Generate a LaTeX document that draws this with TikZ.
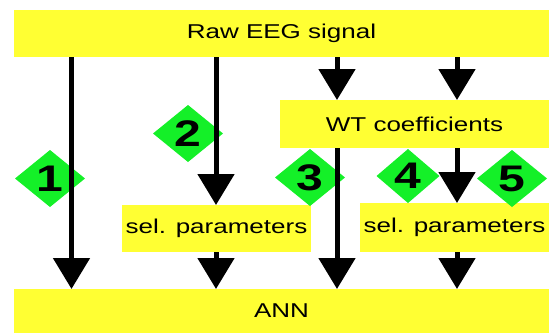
\documentclass[tikz,border=0pt]{standalone}
\usepackage{fontspec}
\setmainfont{Liberation Sans}[FakeStretch=1.3]
\usetikzlibrary{arrows.meta,shapes.geometric}
\definecolor{giallo}{RGB}{255,255,51}
\definecolor{verde}{RGB}{20,240,40}
\begin{document}
\begin{tikzpicture}[x=1pt,y=-1pt,
    box/.style={fill=giallo,inner sep=0pt,outer sep=0pt,font=\fontsize{20}{24}\selectfont},
    rombo/.style={diamond,fill=verde,inner sep=0pt,outer sep=0pt,minimum width=70pt,minimum height=57pt,font=\fontsize{37}{37}\selectfont\bfseries},
    freccia/.style={line width=5pt,-{Triangle[width=36pt,length=31pt]}}]
     \useasboundingbox (0,0) rectangle (549,333);

     %riquadri gialli
     \node[box,minimum width=535pt,minimum height=47.5pt] (raw) at (281.5,33.25) {Raw EEG signal};
     \node[box,minimum width=269pt,minimum height=48pt] (wt) at (414.5,124) {WT coefficients};
     \node[box,minimum width=189pt,minimum height=47pt] (selA) at (216.5,228.5) {sel. parameters};
     \node[box,minimum width=189pt,minimum height=49pt] (selB) at (454.5,227.5) {sel. parameters};
     \node[box,minimum width=535pt,minimum height=44pt] (ann) at (281.5,311) {ANN};

     %rombi verdi con i numeri
     \foreach \n/\x/\y in {1/50/178.5,2/188/133.5,3/310/177.5,5/512/178.5} {
        \node[rombo] (r\n) at (\x,\y) {\n};
     }
     \node[rombo,minimum width=63pt,minimum height=54pt] (r4) at (408,176) {4};

     %colonne delle freccie
     \foreach \n/\x in {1/71.5,2/216,3/337,4/457} {
        \coordinate (c\n) at (\x,0);
     }

     %creo freccie
     \draw[freccia] (c1 |- raw.south) -- (c1 |- ann.north);

     \draw[freccia] (c2 |- raw.south) -- (c2 |- selA.north);
       \draw[freccia] (c2 |- selA.south) -- (c2 |- ann.north);

     \draw[freccia] (c3 |- raw.south) -- (c3 |- wt.north);
       \draw[freccia] (c3 |- wt.south) -- (c3 |- ann.north);

     \draw[freccia] (c4 |- raw.south) -- (c4 |- wt.north);
       \draw[freccia] (c4 |- wt.south) -- (c4 |- selB.north);
       \draw[freccia] (c4 |- selB.south) -- (c4 |- ann.north);
\end{tikzpicture}
\end{document}
